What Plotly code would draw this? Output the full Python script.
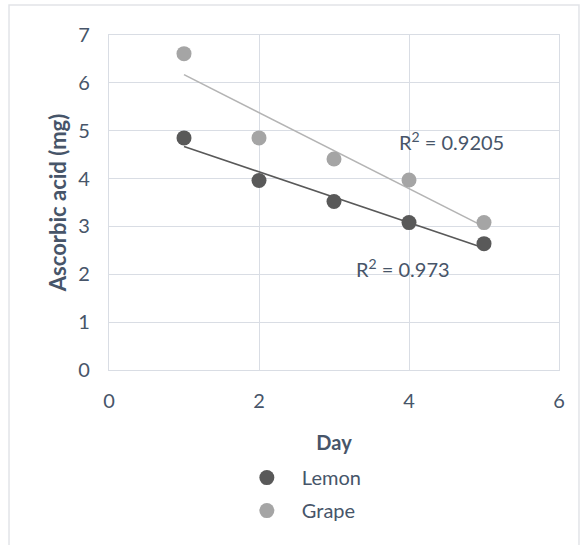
import numpy as np
import plotly.graph_objects as go

days = [1, 2, 3, 4, 5]
lemon = [4.85, 3.96, 3.52, 3.08, 2.64]
grape = [6.61, 4.85, 4.41, 3.97, 3.08]
series_names = ["Lemon", "Grape"]
r2_labels = ["R<sup>2</sup> = 0.973", "R<sup>2</sup> = 0.9205"]
r2_pos = [(3.92, 2.13), (4.57, 4.78)]
x_ticks = [0, 2, 4, 6]
y_ticks = [0, 1, 2, 3, 4, 5, 6, 7]

marker_colors = ["#595959", "#A5A5A5"]
trend_colors = ["#595959", "#B4B4B4"]
text_color = "#475569"
grid_color = "#D9DDE4"
FONT = "Lato, 'Open Sans', sans-serif"
FS = 20

fig = go.Figure()
for i, (name, vals) in enumerate(zip(series_names, [lemon, grape])):
    slope, intercept = np.polyfit(days, vals, 1)
    xs = np.array([days[0], days[-1]])
    fig.add_trace(go.Scatter(
        x=xs, y=slope * xs + intercept, mode="lines",
        line=dict(color=trend_colors[i], width=1.6),
        showlegend=False, hoverinfo="skip"))
for i, (name, vals) in enumerate(zip(series_names, [lemon, grape])):
    fig.add_trace(go.Scatter(
        x=days, y=vals, mode="markers", name=name, legendgroup=name,
        marker=dict(color=marker_colors[i], size=15)))

for lab, (ax, ay) in zip(r2_labels, r2_pos):
    fig.add_annotation(x=ax, y=ay, text=lab, showarrow=False,
                       xref="x", yref="y", font=dict(size=FS, color=text_color, family=FONT))

# outer chart frame
fig.add_shape(type="rect", xref="paper", yref="paper",
              x0=-0.2222, x1=1.0444, y0=-0.62, y1=1.0896,
              line=dict(color="#E2E4E8", width=1.5), layer="below")

fig.update_layout(
    width=584, height=545,
    margin=dict(l=109, r=25, t=35, b=175),
    paper_bgcolor="white", plot_bgcolor="white",
    font=dict(family=FONT, color=text_color, size=FS),
    legend=dict(orientation="v", x=0.273, xanchor="left", y=-0.263, yanchor="top",
                traceorder="grouped", tracegroupgap=4, itemwidth=60,
                font=dict(size=FS, color=text_color, family=FONT),
                bgcolor="rgba(0,0,0,0)"),
    xaxis=dict(range=[0, 6], tickvals=x_ticks, showgrid=True, gridcolor=grid_color,
               gridwidth=1.3, showline=True, mirror=True, linecolor=grid_color, linewidth=1.3,
               zeroline=False, ticks="outside", ticklen=13, tickcolor="rgba(0,0,0,0)",
               tickfont=dict(size=FS, color=text_color),
               title=dict(text="<b>Day</b>", standoff=24, font=dict(size=FS, color=text_color))),
    yaxis=dict(range=[0, 7], tickvals=y_ticks, showgrid=True, gridcolor=grid_color,
               gridwidth=1.3, showline=True, mirror=True, linecolor=grid_color, linewidth=1.3,
               zeroline=False, ticks="outside", ticklen=14, tickcolor="rgba(0,0,0,0)",
               tickfont=dict(size=FS, color=text_color),
               title=dict(text="<b>Ascorbic acid (mg)</b>", standoff=5,
                          font=dict(size=22, color=text_color))),
)

fig.write_html("out.html")
